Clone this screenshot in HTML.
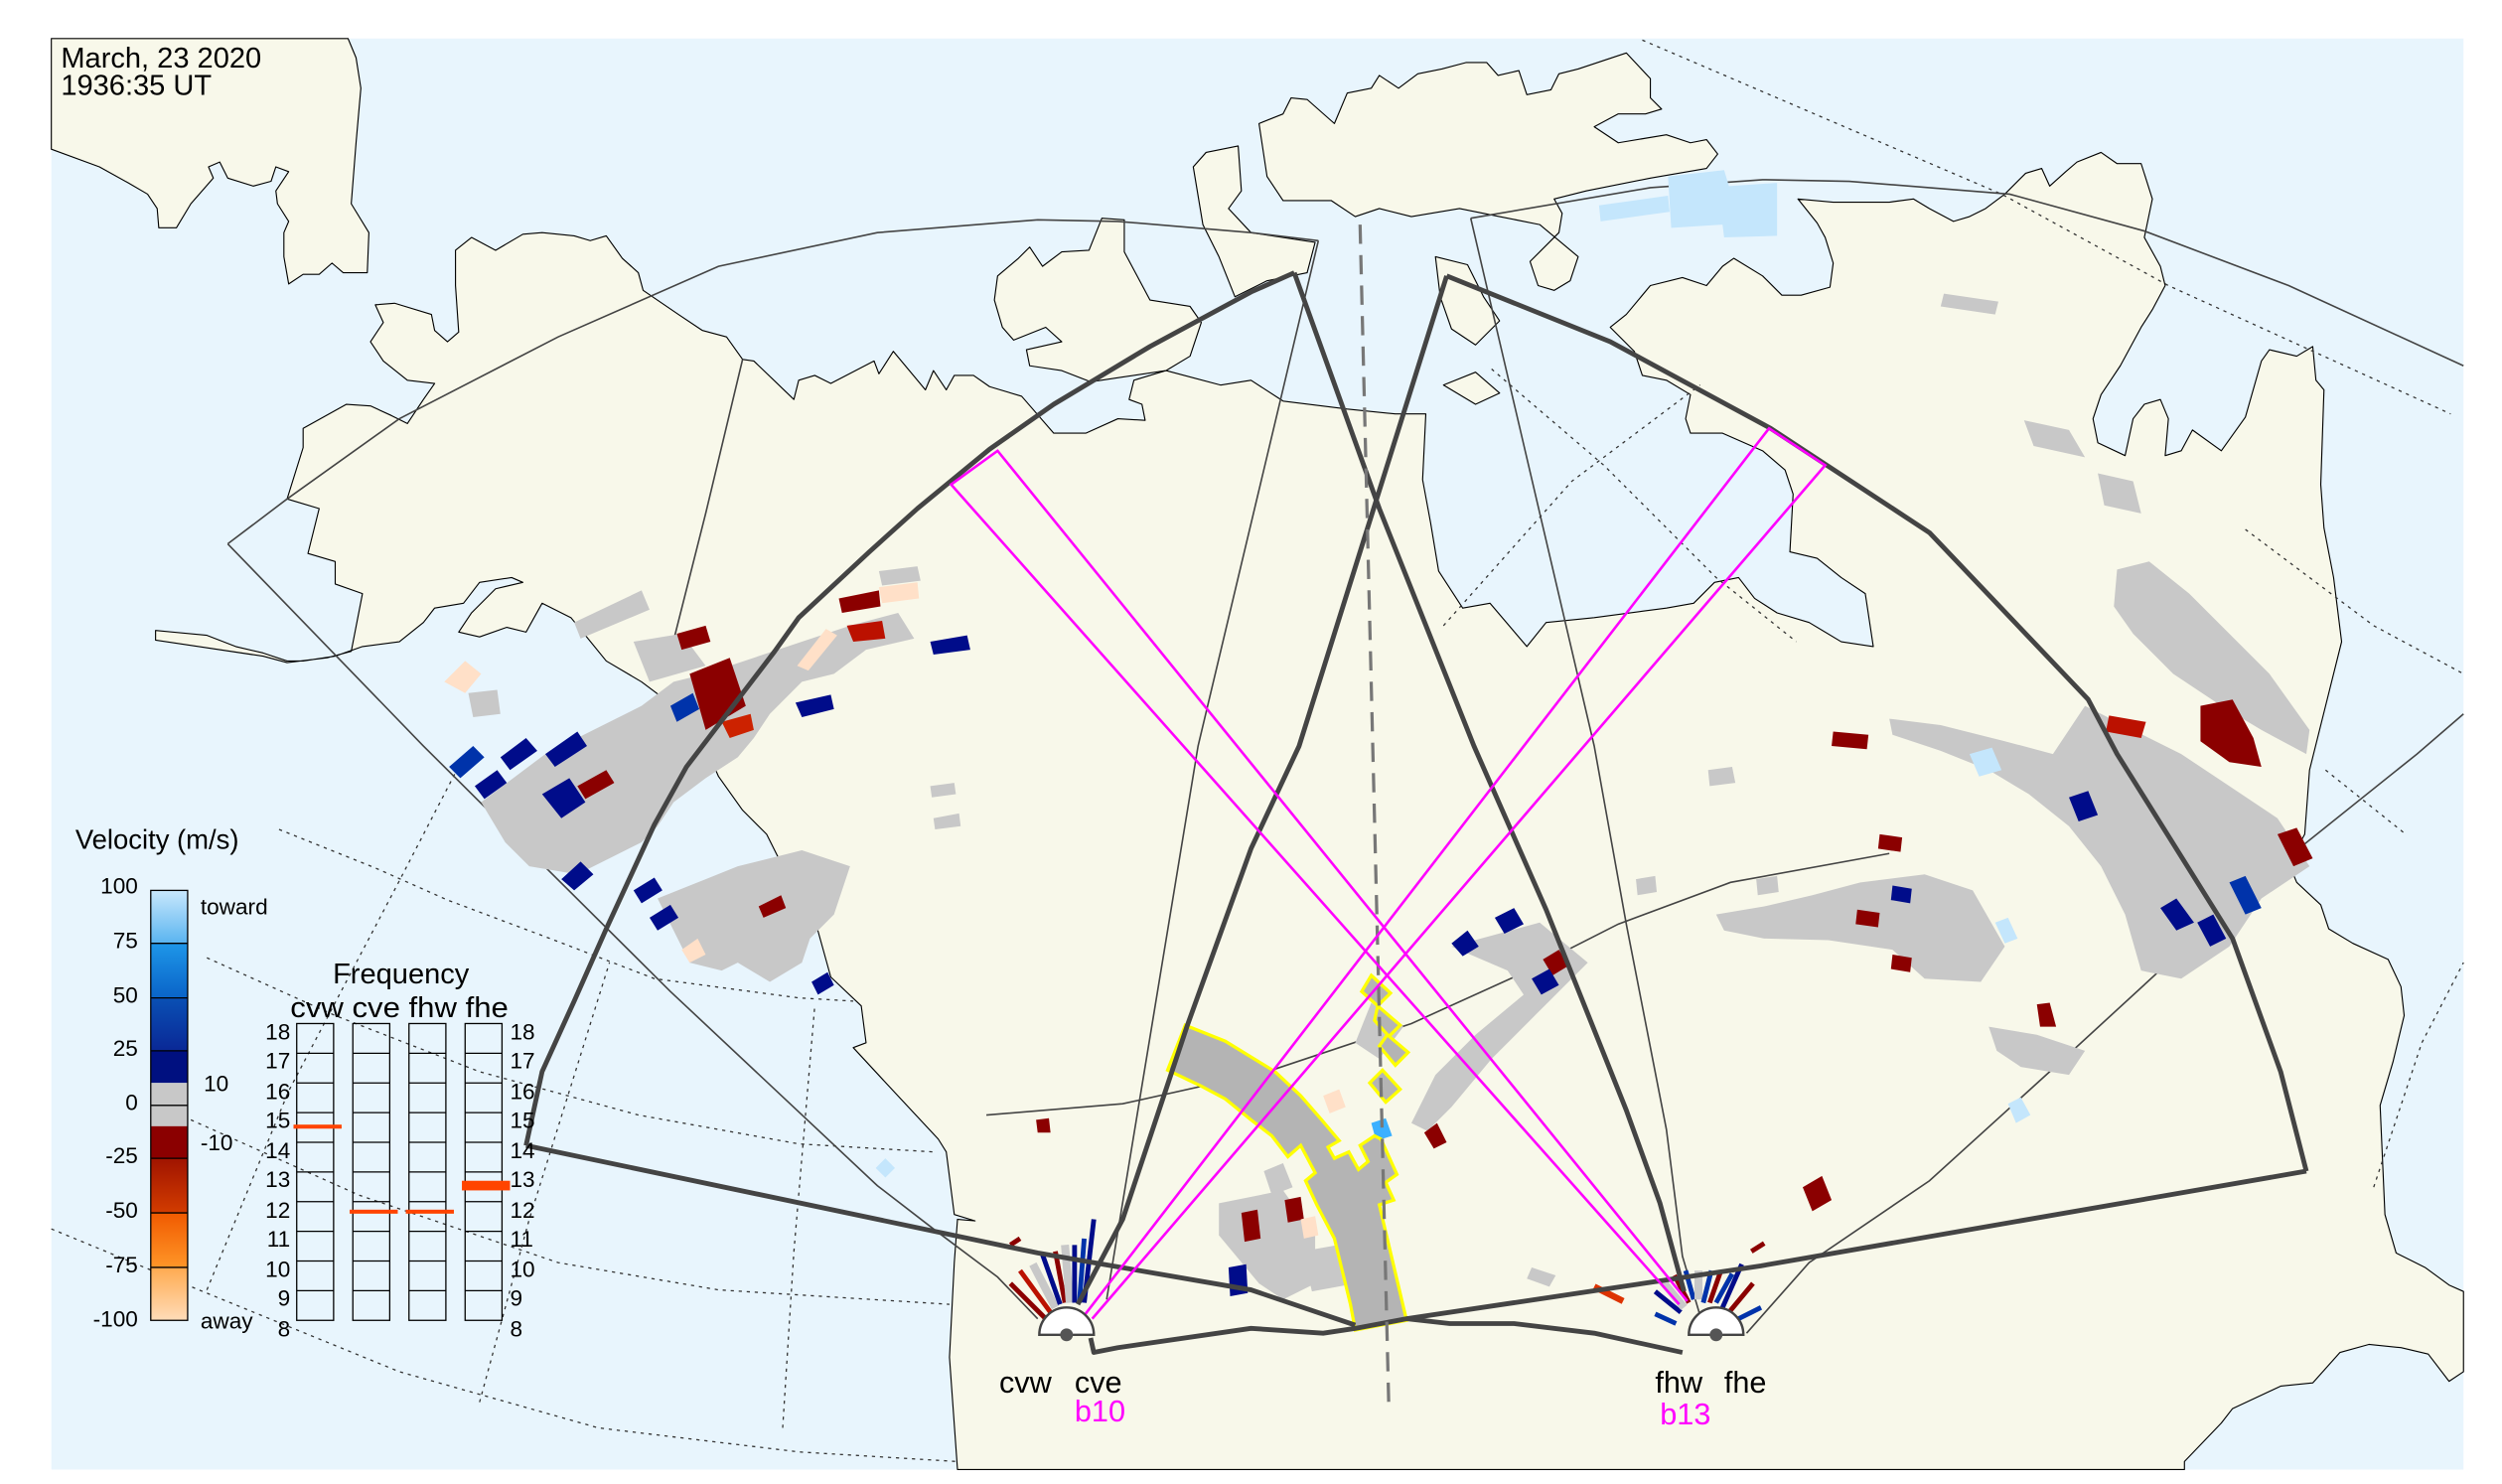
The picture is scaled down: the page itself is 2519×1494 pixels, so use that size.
<!DOCTYPE html>
<html><head><meta charset="utf-8"><style>
html,body{margin:0;padding:0;background:#fff;}
svg{display:block;}
text{font-family:"Liberation Sans",sans-serif;}
</style></head><body>
<svg width="2519" height="1494" viewBox="0 0 1560 925" preserveAspectRatio="none" xmlns="http://www.w3.org/2000/svg">
<rect x="0" y="0" width="1560" height="925" fill="#fff"/>
<rect x="32" y="24" width="1504" height="892" fill="#e8f5fd"/>
<g fill="#f8f8ea" stroke="#000" stroke-width="0.7" stroke-linejoin="round">
<polygon points="32,24 217,24 222,36 225,55 222,89 219,127 230,145 229,170 214,170 207,164 199,171 189,171 180,177 177,160 177,145 180,138 173,127 172,119 180,107 172,104 169,113 158,116 142,111 137,101 130,104 133,111 119,127 110,142 99,142 98,130 92,121 80,114 62,104 32,93"/>
<polygon points="597,916 592,846 595,787 597,760 608,761 595,757 590,718 585,710 557,680 532,653 540,650 537,627 518,609 508,573 493,550 478,520 463,505 448,484 438,461 420,440 400,425 378,412 356,385 338,376 328,394 316,391 299,397 286,394 294,382 309,367 326,363 319,360 299,363 289,376 271,379 264,388 249,400 226,403 209,409 189,412 179,412 164,407 147,403 129,396 97,393 97,399 124,403 164,409 179,413 204,410 219,406 226,370 209,364 209,350 192,345 199,317 179,311 189,279 189,267 216,252 231,253 244,259 254,264 264,249 271,239 254,237 239,225 231,213 239,201 234,190 246,189 269,196 271,206 279,213 286,207 284,178 284,156 294,148 309,156 326,146 338,145 358,147 368,150 378,147 388,161 398,170 401,181 423,196 438,206 453,210 463,224 470,225 495,249 498,237 508,234 518,239 545,225 548,233 557,219 567,231 577,243 582,231 590,243 595,234 607,234 617,241 637,247 657,270 677,270 697,261 714,262 712,252 704,249 707,237 727,231 761,240 780,237 800,250 840,255 870,258 889,258 887,299 892,326 897,356 912,379 929,376 952,403 964,388 994,385 1024,381 1039,379 1056,376 1069,363 1084,360 1094,373 1108,382 1128,388 1148,400 1168,403 1163,370 1148,360 1133,348 1116,344 1118,308 1113,293 1099,281 1074,270 1054,270 1051,261 1054,246 1039,237 1024,234 1019,219 1004,204 1014,196 1029,178 1049,173 1064,178 1074,166 1081,161 1099,172 1111,184 1123,184 1141,179 1143,164 1138,148 1133,139 1121,124 1143,126 1178,126 1193,124 1203,130 1218,138 1228,135 1238,130 1250,121 1263,108 1273,105 1278,116 1288,107 1295,101 1310,95 1320,102 1335,102 1342,124 1337,148 1347,166 1350,178 1342,193 1335,204 1322,228 1310,246 1305,261 1308,276 1325,284 1330,261 1337,252 1347,249 1352,261 1350,284 1360,281 1367,268 1385,281 1400,260 1410,225 1415,218 1432,222 1442,216 1444,237 1449,243 1447,302 1449,329 1455,360 1460,400 1450,440 1440,480 1437,520 1427,538 1432,550 1447,564 1452,579 1467,588 1489,598 1497,615 1499,633 1492,662 1484,689 1487,757 1494,781 1512,790 1527,801 1536,805 1536,855 1527,861 1514,844 1497,840 1477,838 1459,843 1442,862 1422,864 1392,878 1385,887 1362,911 1362,916"/>
<polygon points="662,231 642,228 640,218 662,213 652,204 632,212 625,204 620,187 622,172 635,161 642,154 650,166 662,157 679,156 687,136 701,137 701,157 717,187 742,191 749,201 742,222 727,231 700,235 680,238"/>
<polygon points="744,104 752,95 772,91 774,119 766,130 780,145 820,151 815,170 790,175 770,185 760,160 750,140"/>
<polygon points="785,77 800,71 805,61 815,62 832,77 840,58 855,55 860,47 872,55 884,46 899,43 914,39 927,39 934,47 947,44 952,59 967,56 972,46 984,43 1014,33 1029,49 1029,61 1036,68 1026,71 1009,71 994,79 1009,89 1039,84 1054,89 1064,87 1071,96 1064,105 1029,111 989,119 969,124 974,133 972,145 954,163 959,178 969,181 979,175 984,160 960,140 935,135 910,130 880,135 860,130 845,135 830,125 800,125 790,110"/>
<polygon points="895,160 915,165 925,185 935,200 920,215 905,205 898,185"/>
<polygon points="900,240 920,232 935,245 920,252"/>
</g>
<g fill="none" stroke="#333" stroke-width="0.8" stroke-dasharray="2,3">
<polyline points="174,517 234,541 279,561 343,585 408,610 498,622 532,624"/>
<polyline points="129,597 209,633 299,668 398,695 498,713 582,718"/>
<polyline points="119,698 224,745 348,787 448,804 592,813"/>
<polyline points="32,766 124,804 249,855 373,890 498,905 597,911"/>
<polyline points="129,804 180,680 249,549 290,470"/>
<polyline points="299,874 330,760 380,600"/>
<polyline points="488,890 495,780 508,627"/>
<polyline points="1024,25 1248,121 1352,178 1528,258"/>
<polyline points="1400,330 1480,390 1536,420"/>
<polyline points="930,230 1000,290 1070,360 1120,400"/>
<polyline points="900,390 980,300 1060,240"/>
<polyline points="1450,480 1500,520"/>
<polyline points="1480,740 1510,650 1536,600"/>
</g>
<g fill="none" stroke="#444" stroke-width="1">
<polyline points="142,339 179,311 249,261 348,210 448,166 547,145 647,137 697,138 780,145 822,150"/>
<polyline points="142,339 264,465 418,618 547,739 582,766 622,796 647,822"/>
<polyline points="463,224 440,320 416,415"/>
<polyline points="822,150 747,465 690,810"/>
<polyline points="917,136 1029,117 1099,112 1153,113 1253,121 1337,144 1427,178 1536,228"/>
<polyline points="917,136 994,465 1014,576 1039,704 1049,783 1060,820"/>
<polyline points="1089,831 1128,787 1203,736 1278,668 1352,600 1422,538 1507,470 1536,445"/>
<polyline points="615,695 700,688 790,668 880,638 944,609 1009,576 1079,550 1178,532"/>
</g>
<g fill="#c8c8c8">
<polygon points="300,500 320,485 340,470 370,455 400,440 420,425 440,420 470,410 500,400 530,390 560,382 570,398 540,405 520,420 500,425 480,445 470,460 460,472 440,485 420,500 410,515 400,525 380,535 360,545 330,540 315,525"/>
<polygon points="358,388 400,368 405,380 362,398"/>
<polygon points="395,400 425,395 440,415 405,425"/>
<polygon points="410,560 440,548 460,540 500,530 530,540 520,570 505,585 500,600 480,612 460,600 450,605 430,600 420,580"/>
<polygon points="292,432 310,430 312,445 295,447"/>
<polygon points="548,356 572,353 574,362 550,365"/>
<polygon points="580,490 595,488 596,495 581,497"/>
<polygon points="582,510 598,507 599,515 583,517"/>
<polygon points="1212,183 1246,188 1244,196 1210,191"/>
<polygon points="1262,262 1290,268 1300,285 1268,278"/>
<polygon points="1308,295 1330,300 1335,320 1312,315"/>
<polygon points="1320,355 1340,350 1365,370 1390,395 1415,420 1440,455 1438,470 1410,455 1385,440 1355,420 1330,395 1318,378"/>
<polygon points="1300,440 1330,455 1360,470 1390,490 1420,510 1440,540 1410,560 1390,590 1360,610 1335,605 1325,570 1310,540 1290,515 1265,495 1240,480 1210,468 1180,458 1178,448 1210,452 1250,462 1280,470"/>
<polygon points="1070,570 1100,565 1130,558 1160,550 1200,545 1230,555 1250,590 1235,612 1200,610 1180,592 1140,586 1100,585 1075,580"/>
<polygon points="1240,640 1270,645 1300,655 1290,670 1260,665 1245,655"/>
<polygon points="1065,480 1080,478 1082,488 1066,490"/>
<polygon points="1020,548 1032,546 1033,556 1021,558"/>
<polygon points="1095,548 1108,546 1109,556 1096,558"/>
<polygon points="905,590 960,575 990,600 960,630 930,660 905,690 890,705 880,700 895,670 920,645 950,620 940,605"/>
<polygon points="855,625 875,640 860,660 845,650"/>
<polygon points="760,750 800,742 820,770 820,800 800,810 785,800 760,770"/>
<polygon points="812,780 840,775 845,800 818,805"/>
<polygon points="955,790 970,795 966,802 952,797"/>
<polygon points="788,730 800,725 806,740 793,745"/>
</g>
<g>
<polygon fill="#8b0000" points="430,420 455,410 465,440 440,455"/>
<polygon fill="#8b0000" points="422,395 440,390 443,400 425,405"/>
<polygon fill="#0033aa" points="418,440 432,432 436,442 422,450"/>
<polygon fill="#cc2200" points="450,450 468,445 470,455 455,460"/>
<polygon fill="#8b0000" points="523,373 548,368 549,378 525,382"/>
<polygon fill="#ffe0c8" points="548,366 572,363 573,373 550,376"/>
<polygon fill="#bb1100" points="528,390 550,387 552,398 532,400"/>
<polygon fill="#ffe0c8" points="497,415 515,392 522,396 504,418"/>
<polygon fill="#000c8a" points="580,400 603,396 605,405 582,408"/>
<polygon fill="#000c8a" points="496,438 518,433 520,442 500,447"/>
<polygon fill="#ffe0c8" points="277,425 290,412 300,420 290,432"/>
<polygon fill="#0033aa" points="280,478 295,465 302,472 287,485"/>
<polygon fill="#000c8a" points="312,472 328,460 335,468 318,480"/>
<polygon fill="#000c8a" points="296,490 310,480 316,488 302,498"/>
<polygon fill="#000c8a" points="340,470 360,456 366,465 346,478"/>
<polygon fill="#000c8a" points="338,495 355,485 365,500 350,510"/>
<polygon fill="#8b0000" points="360,490 378,480 383,488 365,498"/>
<polygon fill="#000c8a" points="350,548 362,537 370,545 358,555"/>
<polygon fill="#000c8a" points="395,555 408,547 413,555 400,563"/>
<polygon fill="#000c8a" points="405,572 418,564 423,572 410,580"/>
<polygon fill="#8b0000" points="473,565 487,558 490,566 476,572"/>
<polygon fill="#ffe0c8" points="425,592 435,585 440,595 430,600"/>
<polygon fill="#000c8a" points="506,612 516,606 520,614 510,620"/>
<polygon fill="#8b0000" points="1143,456 1165,458 1164,467 1142,465"/>
<polygon fill="#8b0000" points="1372,440 1392,436 1405,460 1410,478 1390,475 1372,462"/>
<polygon fill="#bb1100" points="1315,446 1338,450 1335,460 1313,456"/>
<polygon fill="#000c8a" points="1290,497 1302,493 1308,508 1296,512"/>
<polygon fill="#8b0000" points="1420,520 1432,516 1442,535 1430,540"/>
<polygon fill="#000c8a" points="1347,566 1357,560 1368,575 1357,580"/>
<polygon fill="#000c8a" points="1370,575 1380,570 1388,585 1378,590"/>
<polygon fill="#0033aa" points="1390,550 1400,546 1410,566 1400,570"/>
<polygon fill="#8b0000" points="1172,520 1186,522 1185,531 1171,529"/>
<polygon fill="#000c8a" points="1180,552 1192,554 1191,563 1179,561"/>
<polygon fill="#8b0000" points="1158,567 1172,569 1171,578 1157,576"/>
<polygon fill="#8b0000" points="1180,595 1192,597 1191,606 1179,604"/>
<polygon fill="#8b0000" points="1270,626 1278,625 1282,640 1272,640"/>
<polygon fill="#c4e6fc" points="1228,470 1242,466 1248,480 1234,484"/>
<polygon fill="#c4e6fc" points="1244,575 1252,572 1258,585 1250,588"/>
<polygon fill="#c4e6fc" points="1252,688 1260,684 1266,695 1257,700"/>
<polygon fill="#c4e6fc" points="997,128 1040,122 1041,132 998,138"/>
<polygon fill="#c4e6fc" points="1040,110 1075,106 1078,116 1108,114 1108,147 1075,148 1074,140 1042,142"/>
<polygon fill="#000c8a" points="905,588 915,580 922,590 912,596"/>
<polygon fill="#000c8a" points="932,572 944,566 950,576 938,582"/>
<polygon fill="#8b0000" points="962,598 972,592 978,602 968,608"/>
<polygon fill="#000c8a" points="955,610 966,604 972,614 961,620"/>
<polygon fill="#8b0000" points="888,706 896,700 902,712 894,716"/>
<polygon fill="#8b0000" points="646,698 654,697 655,706 647,706"/>
<polygon fill="#c4e6fc" points="546,728 552,722 558,728 552,734"/>
<polygon fill="#8b0000" points="774,756 784,754 786,772 776,774"/>
<polygon fill="#000c8a" points="766,790 777,788 778,806 767,808"/>
<polygon fill="#8b0000" points="801,748 811,746 813,760 803,762"/>
<polygon fill="#ffe0c8" points="811,760 820,758 822,770 813,772"/>
<polygon fill="#3bb0ff" points="855,700 864,697 868,708 858,711"/>
<polygon fill="#ffe0c8" points="825,683 835,679 839,690 829,694"/>
<polygon fill="#8b0000" points="1124,740 1136,733 1142,748 1130,755"/>
</g>
<g fill="#b4b4b4" stroke="#ffff00" stroke-width="2">
<polygon points="739,639 764,649 795,668 811,683 824,698 835,711 828,715 832,722 841,718 847,729 853,724 848,714 857,708 861,710 871,732 864,737 869,748 860,751 877,823 845,829 842,813 832,772 821,751 814,736 820,731 811,714 803,721 793,708 780,698 764,685 749,677 728,667"/>
<polygon points="855,608 867,619 859,627 849,618"/>
<polygon points="859,627 873,639 866,646 857,636"/>
<polygon points="865,645 878,656 870,664 860,652"/>
<polygon points="862,667 873,679 864,687 854,675"/>
</g>
<g stroke-width="3" fill="none">
<line x1="652" y1="822" x2="630" y2="800" stroke="#8b0000"/>
<line x1="655" y1="818" x2="636" y2="792" stroke="#bb1100"/>
<line x1="658" y1="815" x2="644" y2="788" stroke="#c8c8c8" stroke-width="5"/>
<line x1="661" y1="813" x2="650" y2="782" stroke="#000c8a"/>
<line x1="664" y1="812" x2="658" y2="780" stroke="#8b0000"/>
<line x1="667" y1="812" x2="664" y2="776" stroke="#c8c8c8" stroke-width="5"/>
<line x1="670" y1="812" x2="670" y2="776" stroke="#000c8a"/>
<line x1="673" y1="812" x2="676" y2="772" stroke="#0033aa"/>
<line x1="676" y1="812" x2="682" y2="760" stroke="#000c8a"/>
<line x1="630" y1="776" x2="636" y2="772" stroke="#8b0000"/>
<line x1="1048" y1="818" x2="1032" y2="805" stroke="#000c8a"/>
<line x1="1050" y1="815" x2="1036" y2="798" stroke="#c8c8c8" stroke-width="5"/>
<line x1="1053" y1="812" x2="1044" y2="795" stroke="#8b0000"/>
<line x1="1056" y1="810" x2="1051" y2="792" stroke="#0033aa"/>
<line x1="1059" y1="810" x2="1059" y2="792" stroke="#c8c8c8" stroke-width="5"/>
<line x1="1062" y1="812" x2="1067" y2="792" stroke="#0033aa"/>
<line x1="1066" y1="812" x2="1073" y2="792" stroke="#8b0000"/>
<line x1="1070" y1="812" x2="1080" y2="794" stroke="#0033aa"/>
<line x1="1074" y1="815" x2="1086" y2="788" stroke="#000c8a"/>
<line x1="1078" y1="818" x2="1093" y2="800" stroke="#8b0000"/>
<line x1="1084" y1="822" x2="1098" y2="815" stroke="#0033aa"/>
<line x1="1092" y1="780" x2="1100" y2="775" stroke="#8b0000"/>
<line x1="994" y1="802" x2="1012" y2="811" stroke="#dd3300" stroke-width="4"/>
<line x1="1045" y1="825" x2="1032" y2="819" stroke="#0033aa"/>
</g>
<g fill="none" stroke="#444" stroke-width="3" stroke-linejoin="round">
<polyline points="328,714 338,668 358,624 378,579 408,514 428,478 483,406 498,385 542,344 572,317 617,280 657,252 717,216 780,182 807,170"/>
<polyline points="807,170 860,317 919,465 964,567 1014,692 1035,750 1050,805"/>
<polyline points="902,172 1004,213 1104,267 1203,332 1302,436 1320,470 1392,585 1422,668 1438,730"/>
<polyline points="902,172 810,465 780,529 740,640 700,760 672,813"/>
<polyline points="1438,730 1098,789 877,822"/>
<polyline points="328,714 647,781 780,804 845,826"/>
<polyline points="680,834 682,843 697,840 780,828 825,831 845,828 877,822 904,825 944,825 994,831 1049,843"/>
</g>
<line x1="848" y1="140" x2="866" y2="880" stroke="#777" stroke-width="2" stroke-dasharray="12,7"/>
<g fill="none" stroke="#ff00ff" stroke-width="1.6">
<polyline points="1047,813 593,302 622,281 1052,811"/>
<polyline points="676,820 1103,267 1138,290 681,822"/>
</g>
<path d="M648,832 A17,17 0 0 1 682,832 Z" fill="#fff" stroke="#444" stroke-width="1.5"/>
<circle cx="665" cy="832" r="4" fill="#555"/>
<path d="M1053,832 A17,17 0 0 1 1087,832 Z" fill="#fff" stroke="#444" stroke-width="1.5"/>
<circle cx="1070" cy="832" r="4" fill="#555"/>
<g font-size="19" fill="#000">
<text x="623" y="868">cvw</text><text x="670" y="868">cve</text>
<text x="1032" y="868">fhw</text><text x="1075" y="868">fhe</text>
</g>
<text x="670" y="886" font-size="19" fill="#ff00ff">b10</text>
<text x="1035" y="888" font-size="19" fill="#ff00ff">b13</text>
<text x="38" y="42" font-size="18">March, 23 2020</text>
<text x="38" y="59" font-size="18">1936:35 UT</text>
<defs>
<linearGradient id="g1" x1="0" y1="0" x2="0" y2="1"><stop offset="0" stop-color="#c8e8fc"/><stop offset="1" stop-color="#5ab4f0"/></linearGradient>
<linearGradient id="g2" x1="0" y1="0" x2="0" y2="1"><stop offset="0" stop-color="#1e96e8"/><stop offset="1" stop-color="#0a64c8"/></linearGradient>
<linearGradient id="g3" x1="0" y1="0" x2="0" y2="1"><stop offset="0" stop-color="#0a50b4"/><stop offset="1" stop-color="#0a2896"/></linearGradient>
<linearGradient id="g6" x1="0" y1="0" x2="0" y2="1"><stop offset="0" stop-color="#a01400"/><stop offset="1" stop-color="#d23c00"/></linearGradient>
<linearGradient id="g7" x1="0" y1="0" x2="0" y2="1"><stop offset="0" stop-color="#f05a00"/><stop offset="1" stop-color="#ff9628"/></linearGradient>
<linearGradient id="g8" x1="0" y1="0" x2="0" y2="1"><stop offset="0" stop-color="#ffaa50"/><stop offset="1" stop-color="#ffdcb8"/></linearGradient>
</defs>
<rect x="94" y="555" width="23" height="33" fill="url(#g1)"/>
<rect x="94" y="588" width="23" height="34" fill="url(#g2)"/>
<rect x="94" y="622" width="23" height="33" fill="url(#g3)"/>
<rect x="94" y="655" width="23" height="20" fill="#001080"/>
<rect x="94" y="675" width="23" height="27" fill="#c8c8c8"/>
<rect x="94" y="702" width="23" height="20" fill="#8b0000"/>
<rect x="94" y="722" width="23" height="34" fill="url(#g6)"/>
<rect x="94" y="756" width="23" height="34" fill="url(#g7)"/>
<rect x="94" y="790" width="23" height="33" fill="url(#g8)"/>
<g stroke="#000" stroke-width="0.8"><rect x="94" y="555" width="23" height="268" fill="none"/>
<line x1="94" y1="588" x2="117" y2="588"/><line x1="94" y1="622" x2="117" y2="622"/><line x1="94" y1="655" x2="117" y2="655"/><line x1="94" y1="689" x2="117" y2="689"/><line x1="94" y1="722" x2="117" y2="722"/><line x1="94" y1="756" x2="117" y2="756"/><line x1="94" y1="790" x2="117" y2="790"/></g>
<text x="47" y="529" font-size="17">Velocity (m/s)</text>
<g font-size="14" text-anchor="end">
<text x="86" y="557">100</text><text x="86" y="591">75</text><text x="86" y="625">50</text><text x="86" y="658">25</text><text x="86" y="692">0</text><text x="86" y="725">-25</text><text x="86" y="759">-50</text><text x="86" y="793">-75</text><text x="86" y="827">-100</text></g>
<g font-size="14"><text x="125" y="570">toward</text><text x="127" y="680">10</text><text x="125" y="717">-10</text><text x="125" y="828">away</text></g>
<text x="250" y="613" font-size="18" text-anchor="middle">Frequency</text>
<text x="181" y="634" font-size="18" textLength="136" lengthAdjust="spacingAndGlyphs">cvw cve fhw fhe</text>
<g fill="none" stroke="#000" stroke-width="0.8">
<rect x="185" y="638" width="23" height="185"/><rect x="220" y="638" width="23" height="185"/><rect x="255" y="638" width="23" height="185"/><rect x="290" y="638" width="23" height="185"/>
<path d="M185,656.5h23M220,656.5h23M255,656.5h23M290,656.5h23M185,675h23M220,675h23M255,675h23M290,675h23M185,693.5h23M220,693.5h23M255,693.5h23M290,693.5h23M185,712h23M220,712h23M255,712h23M290,712h23M185,730.5h23M220,730.5h23M255,730.5h23M290,730.5h23M185,749h23M220,749h23M255,749h23M290,749h23M185,767.5h23M220,767.5h23M255,767.5h23M290,767.5h23M185,786h23M220,786h23M255,786h23M290,786h23M185,804.5h23M220,804.5h23M255,804.5h23M290,804.5h23"/>
</g>
<g fill="#ff4400"><rect x="183" y="701" width="30" height="2.5"/><rect x="218" y="754" width="30" height="2.5"/><rect x="253" y="754" width="30" height="2.5"/><rect x="288" y="736" width="30" height="6"/></g>
<g font-size="14" text-anchor="end">
<text x="181" y="648">18</text><text x="181" y="666">17</text><text x="181" y="685">16</text><text x="181" y="703">15</text><text x="181" y="722">14</text><text x="181" y="740">13</text><text x="181" y="759">12</text><text x="181" y="777">11</text><text x="181" y="796">10</text><text x="181" y="814">9</text><text x="181" y="833">8</text></g>
<g font-size="14">
<text x="318" y="648">18</text><text x="318" y="666">17</text><text x="318" y="685">16</text><text x="318" y="703">15</text><text x="318" y="722">14</text><text x="318" y="740">13</text><text x="318" y="759">12</text><text x="318" y="777">11</text><text x="318" y="796">10</text><text x="318" y="814">9</text><text x="318" y="833">8</text></g>
</svg>
</body></html>
